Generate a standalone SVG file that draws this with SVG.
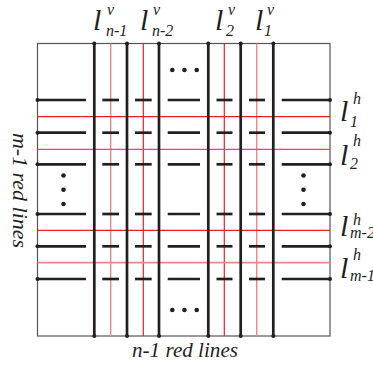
<svg xmlns="http://www.w3.org/2000/svg" width="373" height="366" viewBox="0 0 373 366">
<style>
.frame{fill:none;stroke:#555;stroke-width:1.2}
.red{stroke:#ec1c24;stroke-width:1.2}
.pink{stroke:#f08585;stroke-width:1.4}
.blk{stroke:#231f20;stroke-width:2.7}
.dot{fill:#231f20}
.lab{font-family:"Liberation Serif","Times New Roman",serif;font-style:italic;fill:#231f20}
.big{font-size:30px}
.sm{font-size:16px}
.cap{font-size:20px}
</style>
<rect id="frame" class="frame" x="37.5" y="43.5" width="292.5" height="292.5"/>
<g id="red-lines">
<line class="pink" x1="110.7" y1="43.5" x2="110.7" y2="336"/>
<line class="red" x1="143.3" y1="43.5" x2="143.3" y2="336"/>
<line class="red" x1="224.3" y1="43.5" x2="224.3" y2="336"/>
<line class="pink" x1="256.7" y1="43.5" x2="256.7" y2="336"/>
<line class="red" x1="37.5" y1="116.7" x2="330" y2="116.7"/>
<line class="red" x1="37.5" y1="149.3" x2="330" y2="149.3" style="stroke:#ee4a4f"/>
<line class="red" x1="37.5" y1="230.3" x2="330" y2="230.3"/>
<line class="pink" x1="37.5" y1="262.7" x2="330" y2="262.7" style="stroke-width:1.8"/>
</g>
<g id="vertical-lines">
<line class="blk" x1="94.3" y1="43.5" x2="94.3" y2="336"/>
<line class="blk" x1="127" y1="43.5" x2="127" y2="336"/>
<line class="blk" x1="159" y1="43.5" x2="159" y2="336"/>
<line class="blk" x1="208.3" y1="43.5" x2="208.3" y2="336"/>
<line class="blk" x1="240.7" y1="43.5" x2="240.7" y2="336"/>
<line class="blk" x1="273.3" y1="43.5" x2="273.3" y2="336"/>
<g class="dot">
<circle cx="94.3" cy="43.5" r="2"/><circle cx="127" cy="43.5" r="2"/><circle cx="159" cy="43.5" r="2"/>
<circle cx="208.3" cy="43.5" r="2"/><circle cx="240.7" cy="43.5" r="2"/><circle cx="273.3" cy="43.5" r="2"/>
<circle cx="94.3" cy="336" r="2"/><circle cx="127" cy="336" r="2"/><circle cx="159" cy="336" r="2"/>
<circle cx="208.3" cy="336" r="2"/><circle cx="240.7" cy="336" r="2"/><circle cx="273.3" cy="336" r="2"/>
</g>
</g>
<defs>
<g id="row">
<line class="blk" x1="37.5" y1="0" x2="86" y2="0"/>
<line class="blk" x1="102.3" y1="0" x2="119" y2="0"/>
<line class="blk" x1="135" y1="0" x2="151.7" y2="0"/>
<line class="blk" x1="167.7" y1="0" x2="200" y2="0"/>
<line class="blk" x1="216.5" y1="0" x2="232.5" y2="0"/>
<line class="blk" x1="249" y1="0" x2="265" y2="0"/>
<line class="blk" x1="281.7" y1="0" x2="330" y2="0"/>
<circle class="dot" cx="37.5" cy="0" r="2"/>
<circle class="dot" cx="330" cy="0" r="2"/>
</g>
</defs>
<g id="horizontal-lines">
<use href="#row" y="100"/>
<use href="#row" y="132.7"/>
<use href="#row" y="164.3"/>
<use href="#row" y="214"/>
<use href="#row" y="246.3"/>
<use href="#row" y="279"/>
</g>
<g id="ellipses" class="dot">
<circle cx="172.3" cy="70" r="2.3"/><circle cx="184.5" cy="70" r="2.3"/><circle cx="196.7" cy="70" r="2.3"/>
<circle cx="172.3" cy="310" r="2.3"/><circle cx="184.5" cy="310" r="2.3"/><circle cx="196.7" cy="310" r="2.3"/>
<circle cx="63.5" cy="175.5" r="2.3"/><circle cx="63.5" cy="189.7" r="2.3"/><circle cx="63.5" cy="204" r="2.3"/>
<circle cx="303.5" cy="175.5" r="2.3"/><circle cx="303.5" cy="189.7" r="2.3"/><circle cx="303.5" cy="204" r="2.3"/>
</g>
<g id="labels-v" class="lab">
<text class="big" x="93" y="30">l</text><text class="sm" x="107" y="15">v</text><text class="sm" x="106" y="36">n-1</text>
<text class="big" x="140" y="30">l</text><text class="sm" x="153" y="15">v</text><text class="sm" x="152" y="36">n-2</text>
<text class="big" x="215" y="30">l</text><text class="sm" x="228" y="15">v</text><text class="sm" x="226" y="36">2</text>
<text class="big" x="255" y="30">l</text><text class="sm" x="267" y="15">v</text><text class="sm" x="264" y="36">1</text>
</g>
<g id="labels-h" class="lab">
<text class="big" x="340" y="121">l</text><text class="sm" x="353" y="104">h</text><text class="sm" x="350" y="127">1</text>
<text class="big" x="340" y="165">l</text><text class="sm" x="353" y="146">h</text><text class="sm" x="350" y="169">2</text>
<text class="big" x="340" y="236">l</text><text class="sm" x="353" y="225">h</text><text class="sm" x="350" y="238">m-2</text>
<text class="big" x="340" y="278">l</text><text class="sm" x="353" y="260">h</text><text class="sm" x="350" y="281">m-1</text>
</g>
<g id="captions" class="lab">
<text class="cap" x="185" y="357" text-anchor="middle" textLength="106" lengthAdjust="spacingAndGlyphs">n-1 red lines</text>
<text class="cap" transform="translate(13,190.5) rotate(90)" x="0" y="0" text-anchor="middle" textLength="115" lengthAdjust="spacingAndGlyphs">m-1 red lines</text>
</g>
</svg>
